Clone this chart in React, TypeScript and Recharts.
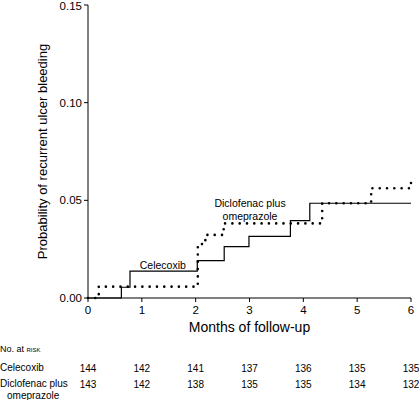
import React from "react";
import { LineChart, Line, XAxis, YAxis, ReferenceDot } from "recharts";

// months since start, cumulative probability of rebleeding (step changes)
const celecoxibMonths = [0, 0.62, 0.78, 2.03, 2.53, 2.99, 3.76, 4.12, 6];
const celecoxibProb = [0, 0.0055, 0.0138, 0.0191, 0.0263, 0.0316, 0.0396, 0.0485, 0.0485];

const diclofenacMonths = [0, 0.2, 2.04, 2.18, 2.52, 4.35, 5.26, 6];
const diclofenacProb = [0, 0.0058, 0.0276, 0.0323, 0.0382, 0.0485, 0.0562, 0.0625];

const monthTicks = [0, 1, 2, 3, 4, 5, 6];
const probTicks = [0, 0.05, 0.1, 0.15];

const celecoxibAtRisk = [144, 142, 141, 137, 136, 135, 135];
const diclofenacAtRisk = [143, 142, 138, 135, 135, 134, 132];

const celecoxibData = celecoxibMonths.map((t, i) => ({ t, p: celecoxibProb[i] }));
const diclofenacData = diclofenacMonths.map((t, i) => ({ t, p: diclofenacProb[i] }));

const FONT = '"Liberation Sans", Arial, Helvetica, sans-serif';

function MonthTick(props: any) {
  const { x, y, payload } = props;
  const i = monthTicks.indexOf(payload.value);
  return (
    <g fontFamily={FONT} fill="#000">
      <text x={x} y={y + 10} textAnchor="middle" fontSize={11.5}>
        {payload.value}
      </text>
      <text x={x} y={y + 68} textAnchor="middle" fontSize={10}>
        {celecoxibAtRisk[i]}
      </text>
      <text x={x} y={y + 84} textAnchor="middle" fontSize={10}>
        {diclofenacAtRisk[i]}
      </text>
    </g>
  );
}

const noteStyle = { fontSize: 10.5, fontFamily: FONT, fill: "#000" };

export default function App() {
  const rowLabel: React.CSSProperties = {
    position: "absolute",
    left: 0,
    fontSize: 10,
    lineHeight: "12px",
    fontFamily: FONT,
    color: "#000",
    whiteSpace: "nowrap",
  };
  return (
    <div style={{ position: "absolute", left: 0, top: 0, width: 419, height: 400, background: "#fff" }}>
      <LineChart width={419} height={400} margin={{ top: 5, right: 8, left: 0, bottom: 62 }}>
        <XAxis
          type="number"
          dataKey="t"
          domain={[0, 6]}
          ticks={monthTicks}
          height={40}
          tickSize={4}
          tickMargin={2}
          stroke="#000"
          tick={<MonthTick />}
          label={{
            value: "Months of follow-up",
            position: "insideBottom",
            offset: 6,
            style: { fontSize: 14, fontFamily: FONT, fill: "#000" },
          }}
        />
        <YAxis
          type="number"
          dataKey="p"
          domain={[0, 0.15]}
          ticks={probTicks}
          width={88}
          tickSize={4}
          tickMargin={2}
          stroke="#000"
          tick={{ fontSize: 11.5, fontFamily: FONT, fill: "#000" }}
          tickFormatter={(v: number) => v.toFixed(2)}
          label={{
            value: "Probability of recurrent ulcer bleeding",
            angle: -90,
            position: "center",
            dx: -2,
            style: { fontSize: 13, fontFamily: FONT, fill: "#000", textAnchor: "middle" },
          }}
        />
        <Line
          data={diclofenacData}
          dataKey="p"
          type="stepAfter"
          stroke="#000"
          strokeWidth={2.6}
          strokeDasharray="0 7.3"
          strokeLinecap="round"
          dot={false}
          isAnimationActive={false}
        />
        <Line
          data={celecoxibData}
          dataKey="p"
          type="stepAfter"
          stroke="#000"
          strokeWidth={1.2}
          dot={false}
          isAnimationActive={false}
        />
        <ReferenceDot x={1.39} y={0.0169} r={0} stroke="none" label={{ value: "Celecoxib", position: "center", style: noteStyle }} />
        <ReferenceDot x={3.01} y={0.0486} r={0} stroke="none" label={{ value: "Diclofenac plus", position: "center", style: noteStyle }} />
        <ReferenceDot x={3.01} y={0.042} r={0} stroke="none" label={{ value: "omeprazole", position: "center", style: noteStyle }} />
      </LineChart>
      <div style={{ ...rowLabel, top: 343, fontSize: 9 }}>
        No. at <span style={{ fontVariant: "small-caps" }}>risk</span>
      </div>
      <div style={{ ...rowLabel, top: 362 }}>Celecoxib</div>
      <div style={{ ...rowLabel, top: 378 }}>Diclofenac plus</div>
      <div style={{ ...rowLabel, top: 390, left: 7 }}>omeprazole</div>
    </div>
  );
}
